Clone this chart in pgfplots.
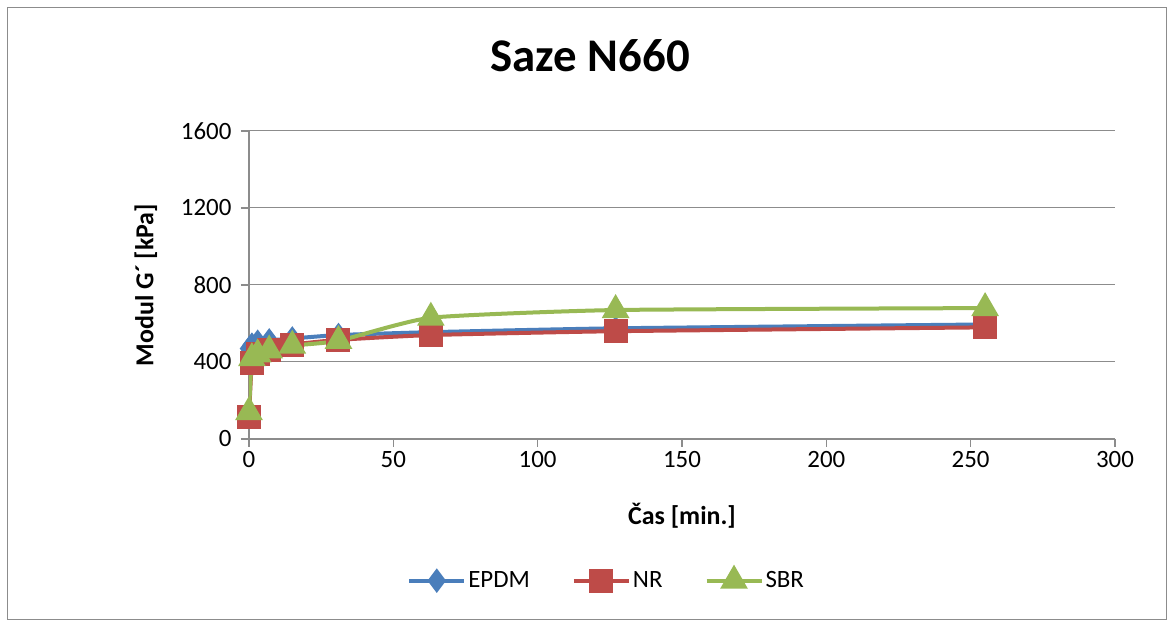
\documentclass[border=0pt]{standalone}
\usepackage{pgfplots}
\pgfplotsset{compat=1.18}
\usepackage{fontspec}
\setmainfont{Carlito}
\definecolor{cblue}{HTML}{4A7EBB}
\definecolor{cred}{HTML}{BE4B48}
\definecolor{cgreen}{HTML}{98B954}
\definecolor{cgrid}{HTML}{8C8C8C}
\begin{document}
\begin{tikzpicture}[x=1bp,y=1bp]
\path[fill=white] (-249,-185) rectangle (925,439);
\draw[cgrid, line width=1bp] (-241,-181) rectangle (917,431);
\begin{axis}[
  at={(0,0)}, anchor=south west,
  scale only axis, width=866bp, height=308bp,
  xmin=0, xmax=300, ymin=0, ymax=1600,
  xtick={0,50,...,300}, ytick={0,400,...,1600},
  axis x line*=bottom, axis y line*=left,
  axis line style={cgrid, line width=1.2bp, -},
  ymajorgrids, grid style={cgrid, line width=1bp},
  tick style={cgrid, line width=1.2bp},
  tick align=outside, major tick length=8bp,
  ticklabel style={font=\fontsize{25}{28}\selectfont},
  yticklabel style={xshift=-6bp},
  xticklabel style={yshift=-1bp},
  /pgf/number format/assume math mode=true,
  /pgf/number format/1000 sep={},
  xlabel={\textbf{Čas [min.]}},
  ylabel={\textbf{Modul G´ [kPa]}},
  label style={font=\fontsize{26}{29}\selectfont},
  xlabel style={at={(axis description cs:0.5,-0.25)}, anchor=center},
  ylabel style={at={(axis description cs:-0.119,0.5)}, anchor=center},
  title={\textbf{Saze N660}},
  title style={font=\fontsize{47}{52}\selectfont, at={(axis description cs:0.394,1.224)}, anchor=center},
  legend style={at={(axis description cs:0.413,-0.458)}, anchor=center, draw=none,
    font=\fontsize{25}{28}\selectfont,
    /tikz/every even column/.append style={column sep=40bp}},
  legend columns=3,
  legend image code/.code={
    \draw[#1, mark=none] (0cm,0cm) -- (55bp,0cm);
    \draw[#1, only marks] plot coordinates {(27.5bp,0cm)};
  },
]
\addplot[cblue, line width=4bp, smooth, tension=0.3, mark=diamond*, mark size=9bp, mark options={solid}] coordinates {
(0,470) (1,490) (3,505) (7,512) (15,522) (31,540) (63,555) (127,575) (255,595)};
\addlegendentry{EPDM}
\addplot[cred, line width=4bp, smooth, tension=0.3, mark=square*, mark size=10bp] coordinates {
(0,115) (1,395) (3,440) (7,460) (15,490) (31,515) (63,540) (127,560) (255,580)};
\addlegendentry{NR}
\addplot[cgreen, line width=4bp, smooth, tension=0.3, mark=triangle*, mark size=12bp] coordinates {
(0,140) (1,420) (3,440) (7,460) (15,485) (31,510) (63,630) (127,670) (255,680)};
\addlegendentry{SBR}
\end{axis}
\end{tikzpicture}
\end{document}
